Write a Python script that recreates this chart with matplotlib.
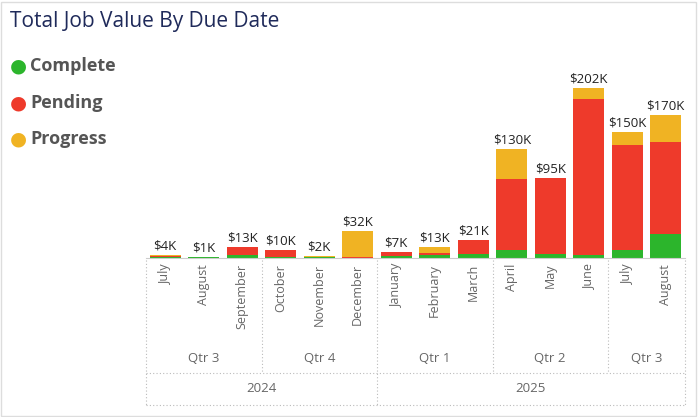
import matplotlib.pyplot as plt
import matplotlib.transforms as mtransforms
import numpy as np

months = ["July", "August", "September", "October", "November", "December",
          "January", "February", "March", "April", "May", "June", "July", "August"]
complete = [1, 1, 3, 1, 1, 0, 2, 3, 5, 9, 5, 3, 10, 28]
pending = [1, 0, 10, 9, 0, 1, 5, 3, 16, 85, 90, 186, 124, 110]
progress = [2, 0, 0, 0, 1, 31, 0, 7, 0, 36, 0, 13, 16, 32]
totals = ["$4K", "$1K", "$13K", "$10K", "$2K", "$32K", "$7K", "$13K", "$21K",
          "$130K", "$95K", "$202K", "$150K", "$170K"]
quarters = [("Qtr 3", 0, 2), ("Qtr 4", 3, 5), ("Qtr 1", 6, 8), ("Qtr 2", 9, 11), ("Qtr 3", 12, 13)]
years = [("2024", 0, 5), ("2025", 6, 13)]

c_green, c_red, c_yellow = "#2CB52C", "#EE3A2B", "#F0B323"
plt.rcParams['font.family'] = ['Open Sans', 'DejaVu Sans']

W, H = 698, 417
fig = plt.figure(figsize=(W / 100, H / 100), dpi=100)
ax = fig.add_axes([146 / W, 1 - 258 / H, 539 / W, 178 / H])
x = np.arange(len(months))
c = np.array(complete); p = np.array(pending); g = np.array(progress)
ax.bar(x, c, 0.8, color=c_green)
ax.bar(x, p, 0.8, bottom=c, color=c_red)
ax.bar(x, g, 0.8, bottom=c + p, color=c_yellow)
for xi, t, lab in zip(x, c + p + g, totals):
    ax.text(xi, t + 3, lab, ha="center", va="bottom", fontsize=9.5, color="#222222")
ax.set_xlim(-0.5, 13.5)
ax.set_ylim(0, 178 / 0.84)
ax.axis("off")
ax.axhline(0, color="#cccccc", lw=0.8, clip_on=False)

tr = mtransforms.blended_transform_factory(ax.transData, ax.transAxes)
def ay(py):
    return (258 - py) / 178

for xi, m in zip(x, months):
    ax.text(xi, ay(264), m, rotation=90, ha="center", va="top", fontsize=9,
            color="#666666", transform=tr)
for name, a, b in quarters:
    ax.text((a + b) / 2, ay(358), name, ha="center", va="center", fontsize=9.5,
            color="#666666", transform=tr)
for name, a, b in years:
    ax.text((a + b) / 2, ay(388), name, ha="center", va="center", fontsize=9.5,
            color="#666666", transform=tr)
ls = dict(color="#bbbbbb", lw=0.8, ls=(0, (1, 2)), transform=tr, clip_on=False)
for bx in [2.5, 8.5, 11.5]:
    ax.plot([bx, bx], [ay(260), ay(373)], **ls)
for bx in [-0.5, 5.5, 13.5]:
    ax.plot([bx, bx], [ay(260), ay(405)], **ls)
ax.plot([-0.5, 13.5], [ay(373), ay(373)], **ls)
ax.plot([-0.5, 13.5], [ay(405), ay(405)], **ls)

fig.text(10 / W, 1 - 22 / H, "Total Job Value By Due Date", fontsize=15,
         color="#1F2A5A", va="center")
for i, (name, col) in enumerate([("Complete", c_green), ("Pending", c_red), ("Progress", c_yellow)]):
    yy = 1 - (66 + 36.5 * i) / H
    fig.text(18 / W, yy, "\u25CF", color=col, fontsize=14, ha="center", va="center",
             family="DejaVu Sans")
    fig.text(30 / W, yy, name, color="#555555", fontsize=13, fontweight="bold", va="center")

fig.patches.append(plt.Rectangle((0.002, 0.003), 0.995, 0.993, transform=fig.transFigure,
                                 fill=False, ec="#dddddd", lw=1))
fig.savefig("out.png", dpi=100)
